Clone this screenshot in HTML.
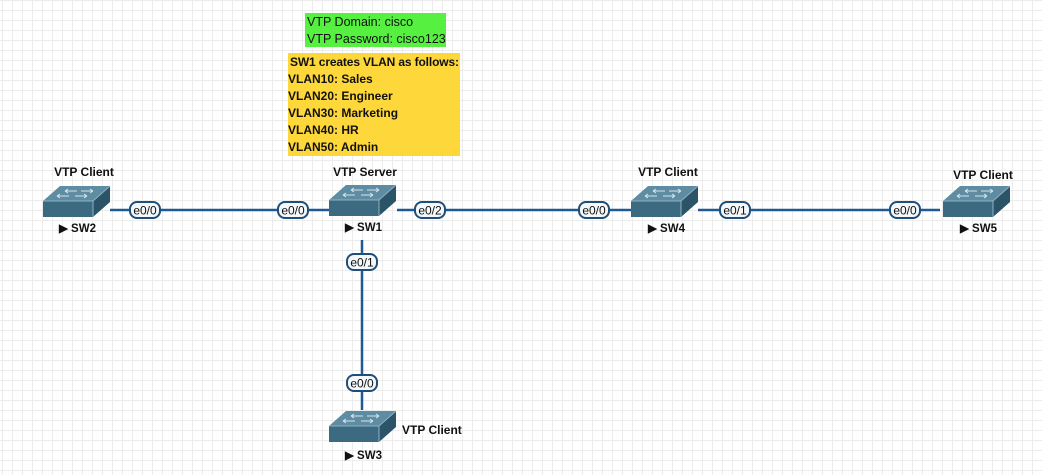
<!DOCTYPE html>
<html><head><meta charset="utf-8"><style>
html,body{margin:0;padding:0;background:#fff;}
svg{display:block;font-family:"Liberation Sans",Arial,sans-serif;}
</style></head><body>
<svg width="1042" height="475" viewBox="0 0 1042 475" xmlns="http://www.w3.org/2000/svg">
<defs>
<pattern id="g" x="2" y="0" width="10" height="10" patternUnits="userSpaceOnUse">
<path d="M0 0.5H10M0.5 0V10" stroke="#ececec" stroke-width="1" fill="none"/>
</pattern>
<g id="sw">
<polygon points="0,15 17,0 67,0 50,15" fill="#5d8ca3"/>
<polygon points="0,15 50,15 50,31 0,31" fill="#3c6a80"/>
<polygon points="50,15 67,0 67,16 50,31" fill="#2c5468"/>
<polyline points="0,15 50,15 67,0" stroke="#8fb2c4" stroke-width="1" fill="none"/>
<line x1="50" y1="15" x2="50" y2="31" stroke="#8fb2c4" stroke-width="1"/>
<path d="M22 5H34M22 5l3-2M22 5l3 2M38 5H50M50 5l-3-2M50 5l-3 2M14 10H26M14 10l3-2M14 10l3 2M32 10H44M44 10l-3-2M44 10l-3 2" stroke="#d8e6ee" stroke-width="1" fill="none"/>
</g>
</defs>
<rect width="1042" height="475" fill="url(#g)"/>
<g stroke="#1f5a96" stroke-width="2.5">
<line x1="110" y1="210" x2="329" y2="210"/>
<line x1="397" y1="210" x2="632" y2="210"/>
<line x1="698" y1="210" x2="940" y2="210"/>
<line x1="362" y1="240" x2="362" y2="410"/>
</g>
<rect x="305" y="13" width="141" height="34" fill="#55f040"/>
<text x="307" y="26" font-size="12.5" fill="#111">VTP Domain: cisco</text>
<text x="307" y="43" font-size="12.5" fill="#111">VTP Password: cisco123</text>
<rect x="288" y="53" width="172" height="103" fill="#fed73b"/>
<g font-size="12" font-weight="bold" fill="#111">
<text x="290" y="66" textLength="169">SW1 creates VLAN as follows:</text>
<text x="288" y="83">VLAN10: Sales</text>
<text x="288" y="100">VLAN20: Engineer</text>
<text x="288" y="117">VLAN30: Marketing</text>
<text x="288" y="134">VLAN40: HR</text>
<text x="288" y="151">VLAN50: Admin</text>
</g>
<use href="#sw" x="43" y="186"/>
<use href="#sw" x="329" y="185"/>
<use href="#sw" x="631" y="186"/>
<use href="#sw" x="943" y="186"/>
<use href="#sw" x="329" y="411"/>
<g font-size="12" font-weight="bold" fill="#111" text-anchor="middle">
<text x="84" y="176">VTP Client</text>
<text x="365" y="176">VTP Server</text>
<text x="668" y="176">VTP Client</text>
<text x="983" y="179">VTP Client</text>
<text x="402" y="434" text-anchor="start">VTP Client</text>
</g>
<g font-size="11.5" font-weight="bold" fill="#111">
<text x="59" y="232">▶ SW2</text>
<text x="345" y="231">▶ SW1</text>
<text x="648" y="232">▶ SW4</text>
<text x="960" y="232">▶ SW5</text>
<text x="345" y="459">▶ SW3</text>
</g>
<g font-size="12" fill="#111" text-anchor="middle">
<g><rect x="130" y="202" width="30" height="16" rx="7" fill="#f4f8fb" stroke="#1f4e79" stroke-width="2"/><text x="145" y="214.5">e0/0</text></g>
<g><rect x="278" y="202" width="30" height="16" rx="7" fill="#f4f8fb" stroke="#1f4e79" stroke-width="2"/><text x="293" y="214.5">e0/0</text></g>
<g><rect x="415" y="202" width="30" height="16" rx="7" fill="#f4f8fb" stroke="#1f4e79" stroke-width="2"/><text x="430" y="214.5">e0/2</text></g>
<g><rect x="579" y="202" width="30" height="16" rx="7" fill="#f4f8fb" stroke="#1f4e79" stroke-width="2"/><text x="594" y="214.5">e0/0</text></g>
<g><rect x="720" y="202" width="30" height="16" rx="7" fill="#f4f8fb" stroke="#1f4e79" stroke-width="2"/><text x="735" y="214.5">e0/1</text></g>
<g><rect x="890" y="202" width="30" height="16" rx="7" fill="#f4f8fb" stroke="#1f4e79" stroke-width="2"/><text x="905" y="214.5">e0/0</text></g>
<g><rect x="347" y="254" width="30" height="16" rx="7" fill="#f4f8fb" stroke="#1f4e79" stroke-width="2"/><text x="362" y="266.5">e0/1</text></g>
<g><rect x="347" y="375" width="30" height="16" rx="7" fill="#f4f8fb" stroke="#1f4e79" stroke-width="2"/><text x="362" y="387.5">e0/0</text></g>
</g>
</svg>
</body></html>
